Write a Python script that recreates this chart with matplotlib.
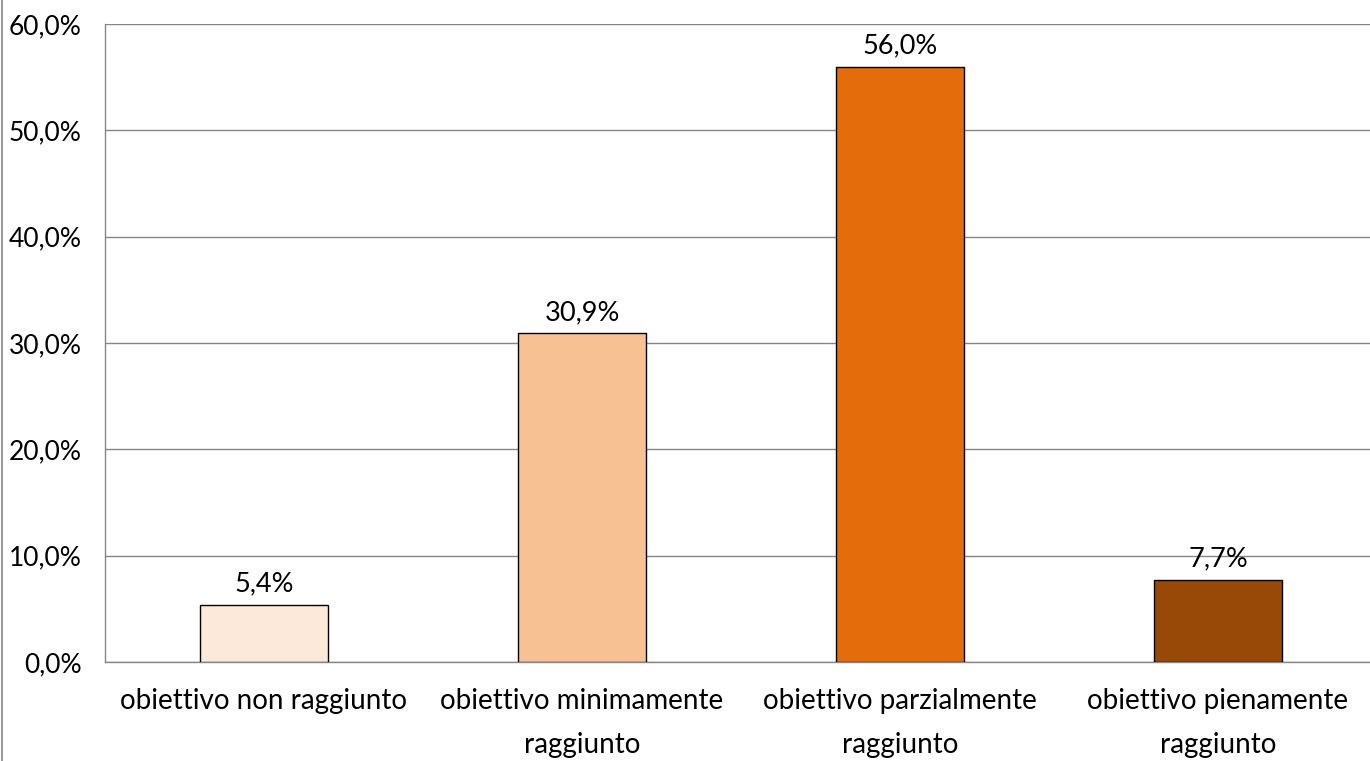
import numpy as np
from matplotlib import pyplot as plt
from matplotlib.lines import Line2D

categories = ["obiettivo non raggiunto", "obiettivo minimamente\nraggiunto",
              "obiettivo parzialmente\nraggiunto", "obiettivo pienamente\nraggiunto"]
values = [5.4, 30.9, 56.0, 7.7]
colors = ["#FCE9DA", "#F8C194", "#E46C0A", "#984807"]
yticks = [0, 10, 20, 30, 40, 50, 60]

plt.rcParams['font.family'] = ['Lato', 'DejaVu Sans']

fig = plt.figure(figsize=(13.7, 7.61), dpi=100)
ax = fig.add_axes([105 / 1370, 1 - 662 / 761, (1377 - 105) / 1370, (662 - 24) / 761])

x = np.arange(len(categories))
bars = ax.bar(x, values, width=0.40, color=colors, edgecolor="black", linewidth=1, zorder=3)

for b, v in zip(bars, values):
    ax.text(b.get_x() + b.get_width() / 2, v + 0.8, f"{v:.1f}%".replace(".", ","),
            ha="center", va="bottom", fontsize=19.5, zorder=4)

ax.set_xlim(-0.5, len(categories) - 0.5)
ax.set_ylim(0, 60)
ax.set_yticks(yticks)
ax.set_yticklabels([f"{t:.1f}%".replace(".", ",") for t in yticks], fontsize=19)
ax.set_xticks(x)
ax.set_xticklabels(categories, fontsize=20, linespacing=1.85)
ax.tick_params(axis="both", length=0)
ax.tick_params(axis="y", pad=17)
ax.tick_params(axis="x", pad=19)

ax.grid(axis="y", color="#868686", linewidth=1, zorder=0)
for s in ["top", "right"]:
    ax.spines[s].set_visible(False)
for s in ["left", "bottom"]:
    ax.spines[s].set_color("#868686")
    ax.spines[s].set_linewidth(1)

# bordo del grafico a sinistra
fig.add_artist(Line2D([1.5 / 1370, 1.5 / 1370], [0, 1], color="#868686", linewidth=1.2))

fig.savefig("out.png", dpi=100)
